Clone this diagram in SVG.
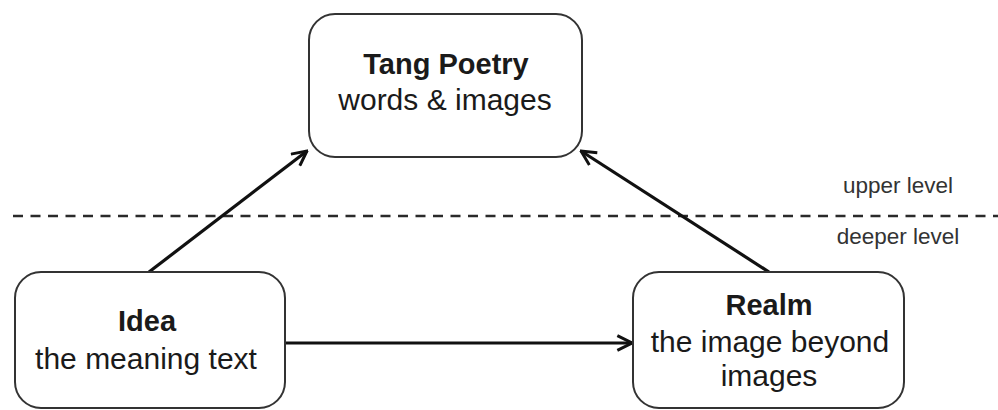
<svg xmlns="http://www.w3.org/2000/svg" width="998" height="410" viewBox="0 0 998 410">
  <style>
    .box { fill: #ffffff; stroke: #333333; stroke-width: 2; }
    .title { font-family: "Liberation Sans", Arial, sans-serif; font-size: 29px; font-weight: bold; fill: #1a1a1a; text-anchor: middle; }
    .sub { font-family: "Liberation Sans", Arial, sans-serif; font-size: 30px; fill: #1a1a1a; text-anchor: middle; }
    .lvl { font-family: "Liberation Sans", Arial, sans-serif; font-size: 22.5px; fill: #333333; text-anchor: middle; }
    .edge { fill: none; stroke: #111111; stroke-width: 3.2; }
    .divider { fill: none; stroke: #2a2a2a; stroke-width: 2.5; stroke-dasharray: 10 7.5; }
  </style>
  <defs>
    <marker id="open" viewBox="0 0 12 12" refX="11" refY="6" markerWidth="5.5" markerHeight="5.5" markerUnits="strokeWidth" orient="auto">
      <path d="M1,1 L11,6 L1,11" fill="none" stroke="#111111" stroke-width="2"/>
    </marker>
  </defs>
  <rect width="998" height="410" fill="#ffffff"/>

  <!-- level divider -->
  <line class="divider" x1="13" y1="216" x2="998" y2="216"/>
  <text class="lvl" x="898" y="192.5">upper level</text>
  <text class="lvl" x="898" y="244">deeper level</text>

  <g id="connectors">
    <line class="edge" x1="149" y1="272" x2="307" y2="151" marker-end="url(#open)"/>
    <line class="edge" x1="769" y1="272" x2="581" y2="151" marker-end="url(#open)"/>
    <line class="edge" x1="286" y1="343" x2="632" y2="343" marker-end="url(#open)"/>
  </g>

  <g id="tang-poetry">
    <rect class="box" x="309" y="14" width="273" height="143" rx="26" ry="26"/>
    <text class="title" x="446" y="74">Tang Poetry</text>
    <text class="sub" x="445" y="110">words &amp; images</text>
  </g>

  <g id="idea">
    <rect class="box" x="15" y="272" width="270" height="136" rx="26" ry="26"/>
    <text class="title" x="147" y="331">Idea</text>
    <text class="sub" x="146" y="369">the meaning text</text>
  </g>

  <g id="realm">
    <rect class="box" x="633" y="272" width="271" height="136" rx="26" ry="26"/>
    <text class="title" x="769" y="315">Realm</text>
    <text class="sub" x="770" y="352">the image beyond</text>
    <text class="sub" x="769" y="386">images</text>
  </g>
</svg>
